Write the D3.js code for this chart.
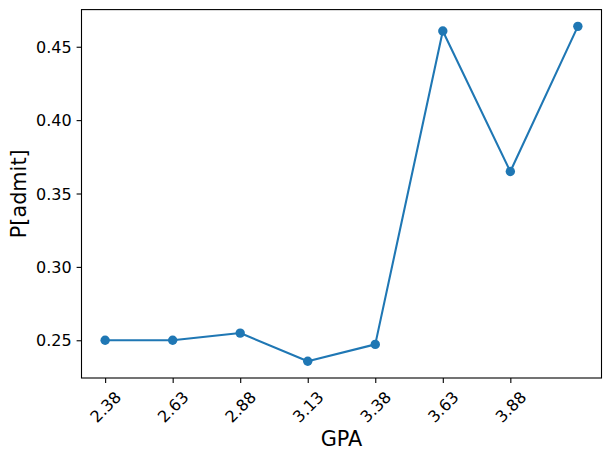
<!DOCTYPE html>
<html><head><meta charset="utf-8">
<script src="https://cdn.jsdelivr.net/npm/d3@7"></script>
<style>body{margin:0;background:#fff}svg{display:block}text{font-family:"DejaVu Sans",sans-serif;fill:#000}</style>
</head><body>
<svg id="c" width="611" height="460"></svg>
<script>
const tickLabels = ["2.38","2.63","2.88","3.13","3.38","3.63","3.88"];
const pointIndex = [0,1,2,3,4,5,6,7];
const admitProb = [0.25, 0.25, 0.2549, 0.2357, 0.2472, 0.4607, 0.3650, 0.4639];
const yTicks = [0.25, 0.30, 0.35, 0.40, 0.45];

const svg = d3.select("#c");
const L = 81.5, R = 601.5, T = 9.6, B = 378;
const n = pointIndex.length;
const xPad = 0.05*(n-1);
const x = d3.scaleLinear().domain([-xPad, n-1+xPad]).range([L, R]);
const yMin = d3.min(admitProb), yMax = d3.max(admitProb), yr = yMax - yMin;
const y = d3.scaleLinear().domain([yMin-0.05*yr, yMax+0.05*yr]).range([B, T]);
const color = "#1f77b4";
const fs = 16;

// y axis
const yAxis = d3.axisLeft(y).tickValues(yTicks).tickFormat(d3.format(".2f")).tickSize(4.9).tickPadding(4.9);
const gy = svg.append("g").attr("transform", `translate(${L},0)`).call(yAxis);
gy.select(".domain").remove();
gy.selectAll(".tick line").attr("stroke","#000").attr("stroke-width",1.1);
gy.selectAll(".tick text").attr("font-size", fs).attr("font-family","DejaVu Sans").attr("fill","#000").attr("dy","0.35em");

// x axis
const xAxis = d3.axisBottom(x).tickValues(tickLabels.map((d,i)=>i)).tickFormat(i=>tickLabels[i]).tickSize(4.9).tickPadding(0);
const gx = svg.append("g").attr("transform", `translate(0,${B})`).call(xAxis);
gx.select(".domain").remove();
gx.selectAll(".tick line").attr("stroke","#000").attr("stroke-width",1.1);
gx.selectAll(".tick text").attr("font-size", fs).attr("font-family","DejaVu Sans").attr("fill","#000")
  .attr("text-anchor","middle").attr("dy","0.346em").attr("y",null)
  .each(function(){
    const t = d3.select(this);
    const w = this.getComputedTextLength();
    const h = 1.164*fs;
    const H = (w+h)/Math.SQRT2;
    const cy = 4.9 + 4.9 + H/2;
    t.attr("y", 0).attr("transform", `translate(0,${cy}) rotate(-45)`);
  });

// frame
svg.append("rect").attr("x",L).attr("y",T).attr("width",R-L).attr("height",B-T)
  .attr("fill","none").attr("stroke","#000").attr("stroke-width",1.1);

// line
const line = d3.line().x((d,i)=>x(pointIndex[i])).y(d=>y(d));
svg.append("path").datum(admitProb).attr("d",line).attr("fill","none")
  .attr("stroke",color).attr("stroke-width",2.08).attr("stroke-linejoin","round").attr("stroke-linecap","square");
svg.selectAll("circle.pt").data(admitProb).join("circle").attr("class","pt")
  .attr("cx",(d,i)=>x(pointIndex[i])).attr("cy",d=>y(d)).attr("r",4.7).attr("fill",color);

// labels
svg.append("text").attr("x",(L+R)/2).attr("y",446).attr("text-anchor","middle").attr("font-size",20.8).text("GPA");
svg.append("text").attr("transform",`translate(26,${(T+B)/2}) rotate(-90)`).attr("text-anchor","middle").attr("font-size",20.8).text("P[admit]");
</script>
</body></html>
